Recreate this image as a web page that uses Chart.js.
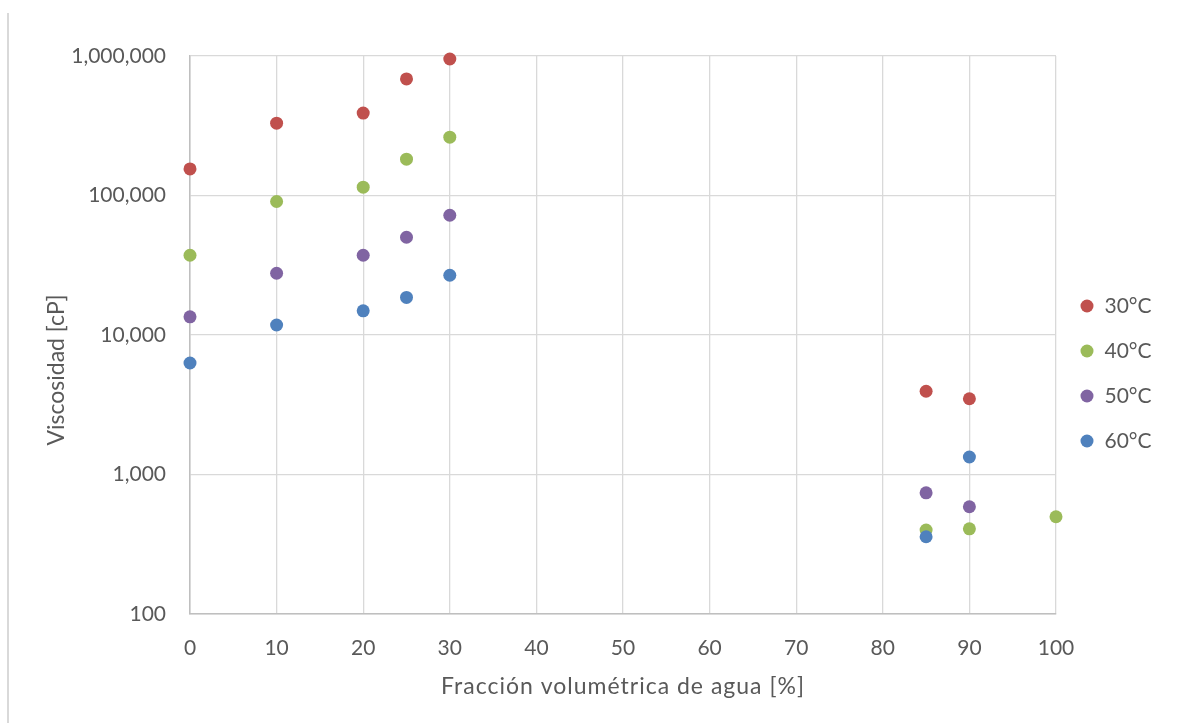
<!DOCTYPE html>
<html lang="es">
<head>
<meta charset="utf-8">
<title>Viscosidad vs fracción volumétrica de agua</title>
<script src="https://cdn.jsdelivr.net/npm/chart.js@4.4.1/dist/chart.umd.min.js"></script>
<style>
  html, body { margin: 0; padding: 0; background: #ffffff; }
  #wrap { position: relative; width: 1177px; height: 723px; overflow: hidden; }
  #frame { position: absolute; left: 7px; top: 13px; bottom: 0; border-left: 2px solid #d9d9d9; }
  canvas { position: absolute; left: 0; top: 0; }
</style>
</head>
<body>
<div id="wrap">
  <div id="frame"></div>
  <canvas id="chart" width="1177" height="723"></canvas>
</div>
<script>
// Water volume fraction [%] for each measured sample
const fraccionAgua   = [0, 10, 20, 25, 30, 85, 90];
const fraccionAgua40 = [0, 10, 20, 25, 30, 85, 90, 100];

// Viscosity [cP] per temperature
const visc30 = [155000, 330000, 390000, 685000, 952000, 3950, 3490];
const visc40 = [37300, 90600, 114700, 182000, 262000, 400, 408, 498];
const visc50 = [13500, 27700, 37300, 50200, 72200, 739, 587];
const visc60 = [6300, 11800, 14900, 18600, 26800, 358, 1335];

const seriesLabels = ['30°C', '40°C', '50°C', '60°C'];
const seriesColors = ['#C0504D', '#9BBB59', '#8064A2', '#4F81BD'];

const yTicks = [100, 1000, 10000, 100000, 1000000];
const xTicks = [0, 10, 20, 30, 40, 50, 60, 70, 80, 90, 100];

const xTitle = 'Fracción volumétrica de agua [%]';
const yTitle = 'Viscosidad [cP]';

const textColor = '#595959';
const gridColor = '#d9d9d9';
const fontFamily = 'Lato, "Open Sans", sans-serif';

function toPoints(xs, ys) {
  return xs.map((x, i) => ({ x: x, y: ys[i] }));
}

const seriesData = [
  toPoints(fraccionAgua, visc30),
  toPoints(fraccionAgua40, visc40),
  toPoints(fraccionAgua, visc50),
  toPoints(fraccionAgua, visc60)
];

// Later series are painted on top of earlier ones
const datasets = seriesData.map((pts, i) => ({
  label: seriesLabels[i],
  data: pts,
  backgroundColor: seriesColors[i],
  borderColor: seriesColors[i],
  borderWidth: 0,
  pointRadius: 6.5,
  pointHoverRadius: 6.5,
  pointStyle: 'circle',
  showLine: false,
  clip: false,
  order: seriesData.length - i
}));

// Axis titles: the vertical one is centred on the chart frame,
// the horizontal one on the plot area, with slightly open tracking
const axisTitlePlugin = {
  id: 'axisTitles',
  afterDraw(chart) {
    const ctx = chart.ctx;
    const area = chart.chartArea;

    ctx.save();
    ctx.font = '23px ' + fontFamily;
    ctx.fillStyle = textColor;
    ctx.textAlign = 'center';
    ctx.textBaseline = 'alphabetic';
    ctx.translate(63.5, 370);
    ctx.rotate(-Math.PI / 2);
    ctx.fillText(yTitle, 0, 0);
    ctx.restore();

    ctx.save();
    ctx.font = '23px ' + fontFamily;
    ctx.fillStyle = textColor;
    ctx.textAlign = 'center';
    ctx.textBaseline = 'alphabetic';
    if ('letterSpacing' in ctx) ctx.letterSpacing = '1px';
    ctx.fillText(xTitle, (area.left + area.right) / 2, 694);
    ctx.restore();
  }
};

function draw() {
  Chart.defaults.font.family = fontFamily;
  Chart.defaults.font.size = 21;
  Chart.defaults.color = textColor;

  new Chart(document.getElementById('chart'), {
    type: 'scatter',
    data: { datasets: datasets },
    options: {
      responsive: false,
      animation: false,
      devicePixelRatio: 1,
      layout: { padding: { top: 24, right: 0, bottom: 0, left: 0 } },
      plugins: {
        tooltip: { enabled: false },
        title: { display: false },
        legend: {
          display: true,
          position: 'right',
          align: 'center',
          fullSize: true,
          labels: {
            usePointStyle: true,
            boxWidth: 14,
            boxHeight: 9.2,
            padding: 24,
            color: textColor,
            font: { size: 21, family: fontFamily },
            sort: (a, b) => a.datasetIndex - b.datasetIndex
          }
        }
      },
      scales: {
        x: {
          type: 'linear',
          position: 'bottom',
          min: 0,
          max: 100,
          afterBuildTicks: s => { s.ticks = xTicks.map(v => ({ value: v })); },
          afterFit: s => { s.height = 109; s.paddingRight = 121; },
          ticks: {
            padding: 22,
            color: textColor,
            font: { size: 21, family: fontFamily },
            maxRotation: 0,
            autoSkip: false
          },
          grid: { color: gridColor, lineWidth: 1.3, drawTicks: false },
          border: { color: '#bfbfbf', width: 1.5 },
          title: { display: false }
        },
        y: {
          type: 'logarithmic',
          position: 'left',
          min: 100,
          max: 1000000,
          afterBuildTicks: s => { s.ticks = yTicks.map(v => ({ value: v })); },
          afterFit: s => { s.width = 190; s.paddingTop = 56; },
          ticks: {
            padding: 24,
            color: textColor,
            font: { size: 21, family: fontFamily },
            autoSkip: false,
            callback: v => Number(v).toLocaleString('en-US')
          },
          grid: { color: gridColor, lineWidth: 1.3, drawTicks: false },
          border: { color: '#bfbfbf', width: 1.5 },
          title: { display: false }
        }
      }
    },
    plugins: [axisTitlePlugin]
  });
}

if (document.fonts && document.fonts.load) {
  Promise.all([document.fonts.load('21px Lato'), document.fonts.load('23px Lato')]).then(draw, draw);
} else {
  draw();
}
</script>
</body>
</html>
